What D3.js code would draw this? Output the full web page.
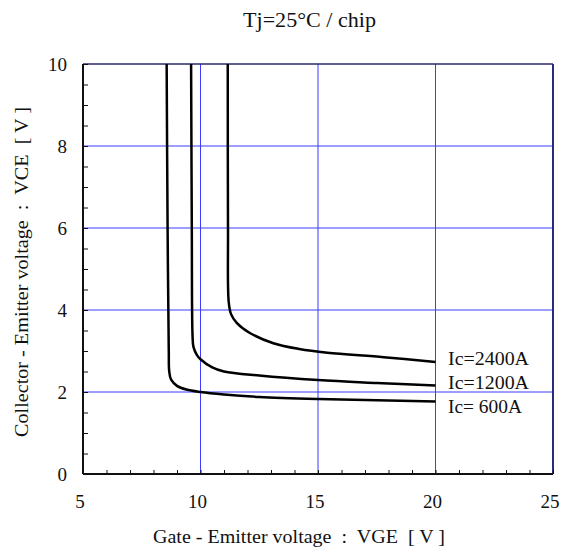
<!DOCTYPE html>
<html>
<head>
<meta charset="utf-8">
<script src="https://cdn.jsdelivr.net/npm/d3@7"></script>
<style>
  body { margin: 0; background: #fff; }
  text { font-family: "Liberation Serif", "Times New Roman", serif; fill: #111; }
</style>
</head>
<body>
<svg width="571" height="549"></svg>
<script>
// data (VGE [V], VCE [V])
const curve600 = [[8.56, 10], [8.6, 6], [8.65, 3], [8.67, 2.5], [8.75, 2.3], [9.0, 2.15], [9.4, 2.06], [10, 2.0], [11, 1.94], [12.5, 1.88], [15, 1.83], [17.5, 1.8], [20, 1.77]];
const curve1200 = [[9.6, 10], [9.63, 6], [9.66, 3.4], [9.7, 3.1], [9.85, 2.9], [10, 2.8], [10.5, 2.6], [11, 2.5], [12.5, 2.4], [15, 2.29], [17.5, 2.22], [20, 2.16]];
const curve2400 = [[11.16, 10], [11.17, 6], [11.2, 4.2], [11.3, 3.9], [11.55, 3.68], [12.1, 3.44], [13.1, 3.19], [14.2, 3.05], [15.4, 2.96], [17.8, 2.85], [20, 2.73]];
const curves = [curve600, curve1200, curve2400];
const curveLabels = ['Ic= 600A', 'Ic=1200A', 'Ic=2400A'];
const labelVce = [1.61, 2.2, 2.78];

const xTicks = [5, 10, 15, 20, 25];
const yTicks = [0, 2, 4, 6, 8, 10];
const xGrid = [10, 15, 20];
const yGrid = [2, 4, 6, 8];

const svg = d3.select('svg');
const margin = { left: 83, right: 18, top: 64, bottom: 75 };
const width = 571 - margin.left - margin.right;
const height = 549 - margin.top - margin.bottom;

const x = d3.scaleLinear().domain([5, 25]).range([margin.left, margin.left + width]);
const y = d3.scaleLinear().domain([0, 10]).range([margin.top + height, margin.top]);

// grid
svg.append('g')
  .selectAll('line')
  .data(xGrid)
  .join('line')
  .attr('x1', d => x(d)).attr('x2', d => x(d))
  .attr('y1', y(0)).attr('y2', y(10))
  .style('stroke', '#3c3cff')
  .style('stroke-width', 1);

svg.append('g')
  .selectAll('line')
  .data(yGrid)
  .join('line')
  .attr('x1', x(5)).attr('x2', x(25))
  .attr('y1', d => y(d)).attr('y2', d => y(d))
  .style('stroke', '#3c3cff')
  .style('stroke-width', 1);

// frame: top and right in navy
svg.append('line')
  .attr('x1', x(5)).attr('x2', x(25)).attr('y1', y(10)).attr('y2', y(10))
  .style('stroke', '#2a2a6a').style('stroke-width', 1.5);
svg.append('line')
  .attr('x1', x(25)).attr('x2', x(25)).attr('y1', y(10)).attr('y2', y(0))
  .style('stroke', '#2a2a80').style('stroke-width', 2);

// axes with inward minor ticks
const xAxis = d3.axisTop(x).tickValues(d3.range(5, 25.01, 1)).tickSize(4).tickFormat('');
svg.append('g')
  .attr('transform', `translate(0,${y(0)})`)
  .call(xAxis)
  .call(g => g.selectAll('line').style('stroke', '#111'))
  .call(g => g.select('.domain').attr('d', `M${x(5)},0H${x(25)}`).style('stroke', '#111').style('stroke-width', 2));

const yAxis = d3.axisRight(y).tickValues(d3.range(0, 10.01, 0.5)).tickSize(5).tickFormat('');
svg.append('g')
  .attr('transform', `translate(${x(5)},0)`)
  .call(yAxis)
  .call(g => g.selectAll('line').style('stroke', '#111'))
  .call(g => g.select('.domain').attr('d', `M0,${y(0)}V${y(10)}`).style('stroke', '#111').style('stroke-width', 2));

// tick labels
svg.append('g')
  .selectAll('text')
  .data(xTicks)
  .join('text')
  .attr('x', d => x(d) - 3)
  .attr('y', 508)
  .attr('text-anchor', 'middle')
  .style('font-size', '19px')
  .text(d => d);

svg.append('g')
  .selectAll('text')
  .data(yTicks)
  .join('text')
  .attr('x', 67)
  .attr('y', d => y(d) + 6.5)
  .attr('text-anchor', 'end')
  .style('font-size', '19px')
  .text(d => d);

// curves
const line = d3.line().x(d => x(d[0])).y(d => y(d[1])).curve(d3.curveCatmullRom.alpha(0.5));
svg.append('g')
  .selectAll('path')
  .data(curves)
  .join('path')
  .attr('d', d => line(d))
  .style('fill', 'none')
  .style('stroke', '#000')
  .style('stroke-width', 2.5);

// curve labels
svg.append('g')
  .selectAll('text')
  .data(curveLabels)
  .join('text')
  .attr('x', 448)
  .attr('y', (d, i) => y(labelVce[i]) + 5)
  .attr('textLength', (d, i) => (i === 0 ? 74 : 81))
  .attr('lengthAdjust', 'spacingAndGlyphs')
  .attr('xml:space', 'preserve')
  .style('font-size', '19.5px')
  .text(d => d);

// titles
svg.append('text')
  .attr('x', 243).attr('y', 27)
  .attr('textLength', 133)
  .attr('lengthAdjust', 'spacingAndGlyphs')
  .style('font-size', '20px')
  .text('Tj=25°C / chip');

svg.append('text')
  .attr('x', 153).attr('y', 543)
  .attr('textLength', 292)
  .attr('lengthAdjust', 'spacingAndGlyphs')
  .style('font-size', '19px')
  .attr('xml:space', 'preserve')
  .text('Gate - Emitter voltage  :  VGE  [ V ]');

svg.append('text')
  .attr('transform', 'translate(28,437) rotate(-90)')
  .attr('textLength', 330)
  .attr('lengthAdjust', 'spacingAndGlyphs')
  .style('font-size', '18.5px')
  .attr('xml:space', 'preserve')
  .text('Collector - Emitter voltage  :  VCE  [ V ]');
</script>
</body>
</html>
